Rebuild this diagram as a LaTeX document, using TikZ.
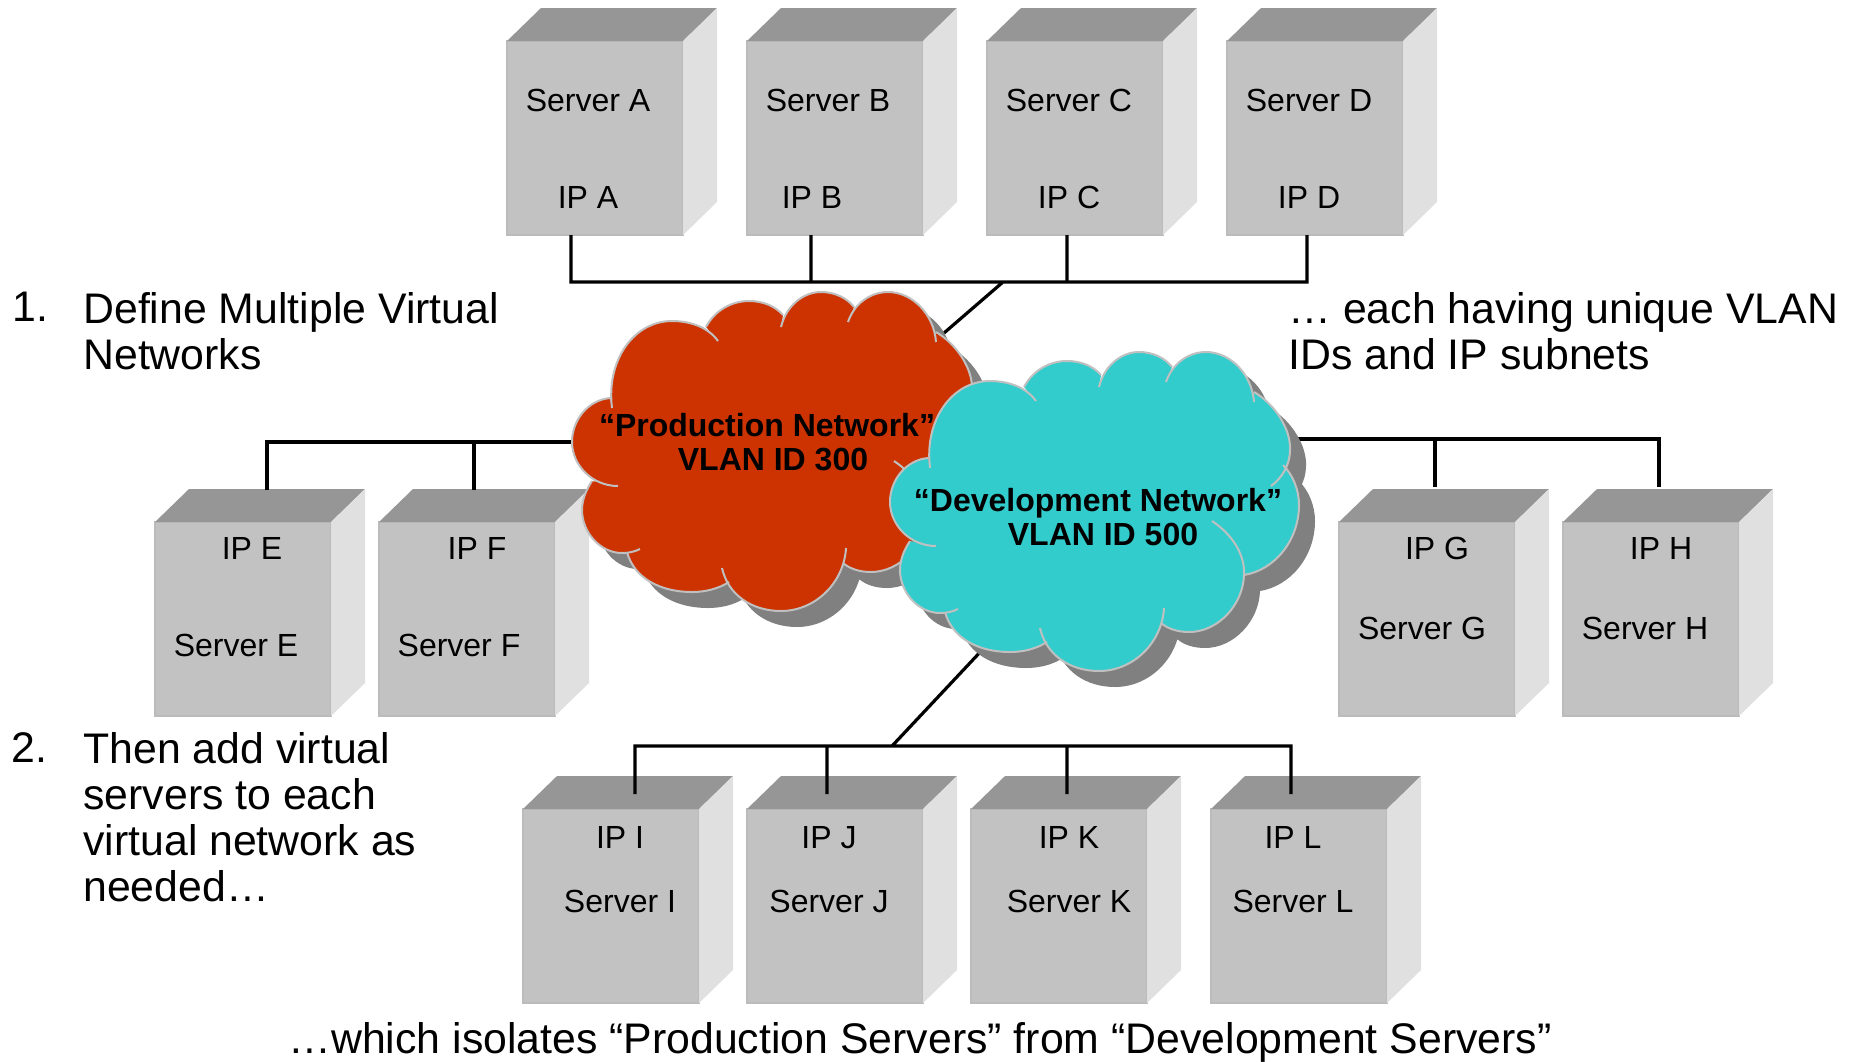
\documentclass[tikz,border=0pt]{standalone}
\usepackage{fontspec}
\setmainfont{Liberation Sans}
\usepackage{xcolor}
\usepackage{tikz}
\usetikzlibrary{backgrounds}

\definecolor{boxfront}{HTML}{C2C2C2}
\definecolor{boxedge}{HTML}{BBBBBB}
\definecolor{boxtop}{HTML}{969696}
\definecolor{boxside}{HTML}{E0E0E0}
\definecolor{prodred}{HTML}{CC3300}
\definecolor{devteal}{HTML}{33CCCC}
\definecolor{cloudedge}{HTML}{C0C0C0}
\definecolor{cloudshadow}{HTML}{808080}

% #1 is -- for the filled outline, empty for the strokes alone
\newcommand{\cloudoutline}[1]{(52,138) .. controls (46,90) and (74,51) .. (112,51) .. controls (130,51) and (148,57) .. (158,71) #1
  (146,57) .. controls (155,40) and (172,31) .. (189,31) .. controls (203,31) and (215,36) .. (223,45) #1
  (221,57) .. controls (226,36) and (243,22) .. (261,22) .. controls (275,22) and (287,28) .. (294,37) #1
  (288,52) .. controls (294,34) and (310,22) .. (328,22) .. controls (352,22) and (374,44) .. (376,72) #1
  (376,62) .. controls (398,75) and (413,100) .. (412,120) .. controls (412,135) and (404,148) .. (393,156) #1
  (405,135) .. controls (415,145) and (421,160) .. (421,175) .. controls (421,210) and (397,240) .. (366,245) #1
  (334,191) .. controls (355,205) and (367,225) .. (366,245) .. controls (365,275) and (340,302) .. (311,302) .. controls (300,302) and (290,299) .. (283,293) #1
  (286,278) .. controls (284,313) and (255,341) .. (221,341) .. controls (192,341) and (168,325) .. (162,298) #1
  (169,312) .. controls (158,319) and (145,322) .. (132,322) .. controls (100,322) and (74,308) .. (67,282) #1
  (80,279) .. controls (74,282) and (68,283) .. (62,283) .. controls (40,283) and (22,262) .. (22,240) .. controls (22,230) and (26,220) .. (32,211) #1
  (58,216) .. controls (32,216) and (12,195) .. (12,172) .. controls (12,150) and (28,130) .. (50,128)}

\newcommand{\serverbox}[3]{%
  \node[server] (#1) at (#2,#3) {};
  \fill[boxtop] (#1.north west) -- ++(34,-33) -- ++(176,0) -- (#1.north east) -- cycle;
  \fill[boxside] (#1.north east) -- ++(34,-33) -- ++(0,194) -- (#1.south east) -- cycle;}

\begin{document}
\begin{tikzpicture}[x=0.5pt,y=-0.5pt]
      \tikzstyle{server} = [draw=boxedge,fill=boxfront,line width=1pt,minimum width=88pt,minimum height=97pt,inner sep=0pt,outer sep=0pt,anchor=north west]
      \tikzstyle{servertext} = [font=\fontsize{16}{18}\selectfont,anchor=base,inner sep=0pt]
      \tikzstyle{bigtext} = [font=\fontsize{21.4}{23}\selectfont,align=left,anchor=north west,inner sep=0pt]
      \tikzstyle{cloudtext} = [font=\fontsize{16}{17.3}\selectfont\bfseries,align=center,inner sep=0pt]
      \tikzstyle{wire} = [line width=1.6pt,black]
      \tikzstyle{cloudline} = [draw=cloudedge,line width=1pt]
      \useasboundingbox (0,0) rectangle (1855,1061);
      %
      % Free ends of the connectors.
      \coordinate (busA) at (571,282);
      \coordinate (busB) at (811,282);
      \coordinate (busC) at (1067,282);
      \coordinate (busD) at (1307,282);
      \coordinate (busTop) at (1003,282);
      \coordinate (prodTop) at (922,352);
      \coordinate (prodLeft) at (600,442);
      \coordinate (busE) at (267,442);
      \coordinate (busF) at (474,442);
      \coordinate (portE) at (267,490);
      \coordinate (portF) at (474,490);
      \coordinate (devRight) at (1260,439);
      \coordinate (busG) at (1435,439);
      \coordinate (busH) at (1659,439);
      \coordinate (portG) at (1435,487);
      \coordinate (portH) at (1659,487);
      \coordinate (devBottom) at (999,632);
      \coordinate (busBottom) at (892,746);
      \coordinate (busI) at (635,746);
      \coordinate (busJ) at (827,746);
      \coordinate (busK) at (1067,746);
      \coordinate (busL) at (1291,746);
      \coordinate (portI) at (635,794);
      \coordinate (portJ) at (827,794);
      \coordinate (portK) at (1067,794);
      \coordinate (portL) at (1291,794);

      \begin{pgfonlayer}{background}
          % Top row.
          \serverbox{A}{507}{41}
          \serverbox{B}{747}{41}
          \serverbox{C}{987}{41}
          \serverbox{D}{1227}{41}
          % Middle row.
          \serverbox{E}{155}{522}
          \serverbox{F}{379}{522}
          \serverbox{G}{1339}{522}
          \serverbox{H}{1563}{522}
          % Bottom row.
          \serverbox{I}{523}{809}
          \serverbox{J}{747}{809}
          \serverbox{K}{971}{809}
          \serverbox{L}{1211}{809}
          % Draw lines.
          \draw[wire] (A.south -| busA) -- (busA) -- (busD) -- (D.south -| busD) (B.south -| busB) -- (busB) (C.south -| busC) -- (busC) (busTop) -- (prodTop);
          \draw[wire] (portE) -- (busE) -- (prodLeft) (portF) -- (busF);
          \draw[wire] (devRight) -- (busH) -- (portH) (busG) -- (portG);
          \draw[wire] (portI) -- (busI) -- (busL) -- (portL) (portJ) -- (busJ) (portK) -- (busK) (busBottom) -- (devBottom);
      \end{pgfonlayer}

      % Server texts.
      \node[servertext] (nameA) at (588,111) {Server A};
      \node[servertext] (ipA) at (588,208) {IP A};
      \node[servertext] (nameB) at (828,111) {Server B};
      \node[servertext] (ipB) at (812,208) {IP B};
      \node[servertext] (nameC) at (1069,111) {Server C};
      \node[servertext] (ipC) at (1069,208) {IP C};
      \node[servertext] (nameD) at (1309,111) {Server D};
      \node[servertext] (ipD) at (1309,208) {IP D};
      \node[servertext] (ipE) at (252,559) {IP E};
      \node[servertext] (nameE) at (236,656) {Server E};
      \node[servertext] (ipF) at (477,559) {IP F};
      \node[servertext] (nameF) at (459,656) {Server F};
      \node[servertext] (ipG) at (1437,559) {IP G};
      \node[servertext] (nameG) at (1422,639) {Server G};
      \node[servertext] (ipH) at (1661,559) {IP H};
      \node[servertext] (nameH) at (1645,639) {Server H};
      \node[servertext] (ipI) at (620,848) {IP I};
      \node[servertext] (nameI) at (620,912) {Server I};
      \node[servertext] (ipJ) at (829,848) {IP J};
      \node[servertext] (nameJ) at (829,912) {Server J};
      \node[servertext] (ipK) at (1069,848) {IP K};
      \node[servertext] (nameK) at (1069,912) {Server K};
      \node[servertext] (ipL) at (1293,848) {IP L};
      \node[servertext] (nameL) at (1293,912) {Server L};

      % Production cloud.
      \begin{scope}[shift={(560,270)}]
          \fill[cloudshadow,shift={(16,16)}] \cloudoutline{--};
          \fill[prodred] \cloudoutline{--};
          \draw[cloudline] \cloudoutline{};
      \end{scope}
      \node[cloudtext] (prod) at (767,442) {“Production Network”\\\hspace*{6pt}VLAN ID 300};

      % Development cloud.
      \begin{scope}[shift={(878,330)}]
          \fill[cloudshadow,shift={(16,16)}] \cloudoutline{--};
          \fill[devteal] \cloudoutline{--};
          \draw[cloudline] \cloudoutline{};
      \end{scope}
      \node[cloudtext] (dev) at (1098,517) {“Development Network”\\\hspace*{5pt}VLAN ID 500};

      % Captions.
      \node[bigtext] (numOne) at (12,292) {1.};
      \node[bigtext] (stepOne) at (83,292) {Define Multiple Virtual\\Networks};
      \node[bigtext] (stepTwo) at (1288,292) {… each having unique VLAN\\IDs and IP subnets};
      \node[bigtext] (numTwo) at (11,732) {2.};
      \node[bigtext] (stepThree) at (83,732) {Then add virtual\\servers to each\\virtual network as\\needed…};
      \node[font=\fontsize{21.4}{23}\selectfont,anchor=base,inner sep=0pt] (stepFour) at (920,1053) {…which isolates “Production Servers” from “Development Servers”};
\end{tikzpicture}
\end{document}
